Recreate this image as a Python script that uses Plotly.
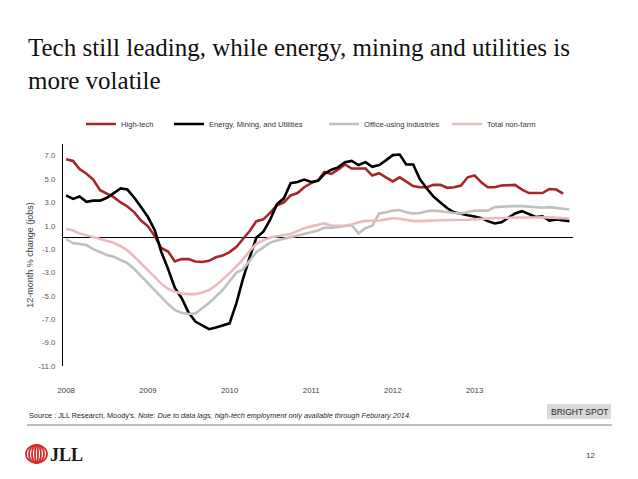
import plotly.graph_objects as go
import pandas as pd

# ---------------- data ----------------
months = pd.date_range("2008-01-01", periods=75, freq="MS")

high_tech = [6.7, 6.55, 5.85, 5.45, 4.95, 4.05, 3.75, 3.45, 3.0, 2.65,
             2.15, 1.45, 0.95, 0.1, -0.9, -1.2, -2.05, -1.85, -1.85, -2.05,
             -2.1, -2.0, -1.7, -1.55, -1.25, -0.8, -0.15, 0.55, 1.4, 1.55,
             2.1, 2.75, 3.0, 3.6, 3.8, 4.3, 4.65, 4.9, 5.6, 5.45,
             5.8, 6.25, 5.9, 5.9, 5.9, 5.3, 5.5, 5.15, 4.8, 5.15,
             4.8, 4.4, 4.3, 4.3, 4.5, 4.5, 4.25, 4.3, 4.45, 5.15,
             5.3, 4.7, 4.3, 4.3, 4.45, 4.5, 4.5, 4.1, 3.8, 3.8,
             3.8, 4.15, 4.1, 3.75]

energy = [3.6, 3.3, 3.5, 3.05, 3.15, 3.15, 3.4, 3.8, 4.2, 4.1,
          3.4, 2.6, 1.75, 0.6, -1.2, -2.7, -4.3, -5.2, -6.4, -7.2,
          -7.55, -7.85, -7.7, -7.55, -7.35, -5.6, -3.6, -1.7, 0.0, 0.5,
          1.5, 2.85, 3.35, 4.65, 4.75, 4.95, 4.75, 4.85, 5.45, 5.8,
          6.0, 6.45, 6.55, 6.2, 6.45, 6.05, 6.2, 6.6, 7.05, 7.1,
          6.25, 6.25, 5.0, 4.2, 3.5, 3.0, 2.5, 2.15, 2.0, 1.9,
          1.8, 1.65, 1.4, 1.2, 1.3, 1.7, 2.05, 2.25, 2.0, 1.75,
          1.8, 1.45, 1.55, 1.45, 1.4]

office = [-0.15, -0.5, -0.55, -0.65, -1.0, -1.25, -1.5, -1.65, -1.9, -2.2,
          -2.7, -3.3, -3.9, -4.45, -5.1, -5.7, -6.2, -6.45, -6.55, -6.5,
          -6.05, -5.6, -5.05, -4.5, -3.75, -3.0, -2.75, -1.95, -1.25, -0.85,
          -0.45, -0.25, -0.1, 0.05, 0.15, 0.35, 0.45, 0.6, 0.85, 0.82,
          0.9, 0.95, 1.05, 0.35, 0.8, 1.0, 2.05, 2.15, 2.3, 2.35,
          2.15, 2.05, 2.1, 2.25, 2.3, 2.25, 2.15, 2.1, 2.05, 2.2,
          2.3, 2.3, 2.3, 2.6, 2.65, 2.7, 2.7, 2.68, 2.65, 2.62,
          2.55, 2.6, 2.55, 2.45, 2.4]

total_nonfarm = [0.75, 0.6, 0.35, 0.2, 0.0, -0.15, -0.25, -0.45, -0.75, -1.1,
                 -1.65, -2.2, -2.8, -3.4, -3.95, -4.4, -4.65, -4.8, -4.85, -4.85,
                 -4.7, -4.5, -4.1, -3.6, -3.05, -2.45, -1.9, -1.15, -0.55, -0.25,
                 0.0, 0.1, 0.2, 0.3, 0.55, 0.8, 0.95, 1.1, 1.2, 1.0,
                 1.0, 1.02, 1.1, 1.3, 1.42, 1.42, 1.45, 1.55, 1.65, 1.6,
                 1.5, 1.4, 1.4, 1.4, 1.45, 1.48, 1.48, 1.48, 1.5, 1.52,
                 1.55, 1.6, 1.65, 1.67, 1.67, 1.7, 1.7, 1.71, 1.71, 1.73,
                 1.75, 1.72, 1.68, 1.65, 1.62]

series_names = ["High-tech", "Energy, Mining, and Utilities",
                "Office-using industries", "Total non-farm"]
year_ticks = ["2008-01-01", "2009-01-01", "2010-01-01",
              "2011-01-01", "2012-01-01", "2013-01-01"]
year_labels = ["2008", "2009", "2010", "2011", "2012", "2013"]
y_ticks = [7, 5, 3, 1, -1, -3, -5, -7, -9, -11]
y_labels = ["%.1f" % v for v in y_ticks]

# ---------------- layout helpers ----------------
W, H = 638, 479
L, R, T, B = 63, 573, 144, 366


def xp(px):
    return (px - L) / (R - L)


def yp(py):
    return (B - py) / (B - T)


SANS = "Liberation Sans, Arial, sans-serif"
SERIF = "Liberation Serif, Times New Roman, serif"
colors = ["#a6262b", "#000000", "#c0c0c0", "#e8bcbc"]
values = [high_tech, energy, office, total_nonfarm]
legend_ids = ["legend", "legend2", "legend3", "legend4"]
legend_text_x = [121, 209, 364, 487]

fig = go.Figure()
for name, vals, col, lid in zip(series_names, values, colors, legend_ids):
    fig.add_trace(go.Scatter(
        x=months[:len(vals)], y=vals, name=name, mode="lines",
        line=dict(color=col, width=2.6), legend=lid,
        hoverinfo="skip"))

legend_common = dict(orientation="h", font=dict(family=SANS, size=7.6, color="#333333"),
                     bgcolor="rgba(0,0,0,0)", itemwidth=30, yanchor="middle",
                     xanchor="left", tracegroupgap=0)
leg_layout = {}
for lid, tx in zip(legend_ids, legend_text_x):
    leg_layout[lid] = dict(legend_common, x=xp(tx - 40), y=yp(124))

fig.update_layout(
    width=W, height=H,
    margin=dict(l=L, r=W - R, t=T, b=H - B),
    paper_bgcolor="white", plot_bgcolor="white",
    showlegend=True,
    **leg_layout,
    xaxis=dict(
        range=["2007-12-18", "2014-03-17"],
        tickmode="array", tickvals=year_ticks, ticktext=year_labels,
        showgrid=False, zeroline=False, showline=False, ticks="",
        ticklabelstandoff=18,
        tickfont=dict(family=SANS, size=7.8, color="#404040"),
    ),
    yaxis=dict(
        range=[-11, 8],
        tickmode="array", tickvals=y_ticks, ticktext=y_labels,
        showgrid=False, showline=True, linecolor="#000000", linewidth=1,
        zeroline=True, zerolinecolor="#000000", zerolinewidth=1.3,
        ticks="", ticklabelstandoff=5,
        tickfont=dict(family=SANS, size=7.8, color="#595959"),
        title=dict(text="12-month % change (jobs)", standoff=3,
                   font=dict(family=SANS, size=9, color="#404040")),
    ),
)

# Title
fig.add_annotation(
    x=xp(26), y=yp(32), xref="paper", yref="paper", xanchor="left", yanchor="top",
    align="left", showarrow=False,
    text="Tech still leading, while energy, mining and utilities is<br>more volatile",
    font=dict(family=SERIF, size=25, color="#111111"),
)

# Source note
fig.add_annotation(
    x=xp(27), y=yp(415), xref="paper", yref="paper", xanchor="left", yanchor="middle",
    showarrow=False,
    text="Source : JLL Research, Moody's. <i>Note: Due to data lags, high-tech employment only available through Feburary 2014.</i>",
    font=dict(family=SANS, size=7.3, color="#262626"),
)

# Bright spot box
fig.add_shape(type="rect", xref="paper", yref="paper",
              x0=xp(547), x1=xp(611), y0=yp(404), y1=yp(419),
              fillcolor="#d9d9d9", line=dict(width=0))
fig.add_annotation(
    x=xp(579), y=yp(411.5), xref="paper", yref="paper", xanchor="center", yanchor="middle",
    showarrow=False, text="BRIGHT SPOT",
    font=dict(family=SANS, size=8.5, color="#262626"),
)

# Separator line
fig.add_shape(type="line", xref="paper", yref="paper",
              x0=xp(27), x1=xp(612), y0=yp(425), y1=yp(425),
              line=dict(color="#7f7f7f", width=1))

# JLL logo (rings + wordmark)
for half_w in [10.5, 7.5, 4.5, 1.5]:
    fig.add_shape(type="circle", xref="paper", yref="paper",
                  x0=xp(36.5 - half_w), x1=xp(36.5 + half_w),
                  y0=yp(445), y1=yp(463),
                  line=dict(color="#d32f2a", width=1.8))
fig.add_annotation(
    x=xp(48), y=yp(454.5), xref="paper", yref="paper", xanchor="left", yanchor="middle",
    showarrow=False, text="<b>JLL</b>",
    font=dict(family=SERIF, size=18, color="#1a1a1a"),
)

# Page number
fig.add_annotation(
    x=xp(597), y=yp(455), xref="paper", yref="paper", xanchor="right", yanchor="middle",
    showarrow=False, text="12",
    font=dict(family=SANS, size=8, color="#404040"),
)

fig.write_html("out.html")
